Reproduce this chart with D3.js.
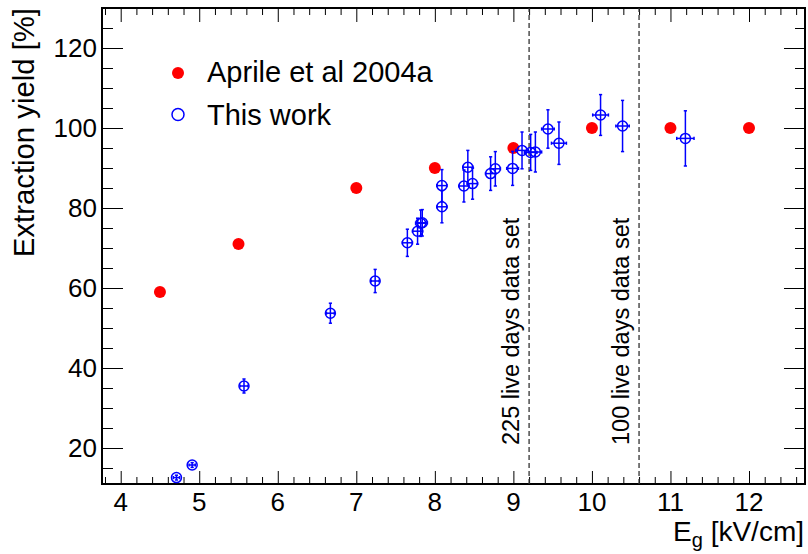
<!DOCTYPE html>
<html>
<head>
<meta charset="utf-8">
<script src="https://cdn.jsdelivr.net/npm/d3@7"></script>
<style>
  html, body { margin: 0; padding: 0; background: #fff; }
  svg { display: block; }
  text { font-family: "Liberation Sans", Arial, Helvetica, sans-serif; fill: #000; }
</style>
</head>
<body>
<svg id="chart" width="808" height="554"></svg>
<script>
// ---- data ----
const aprileX = [4.5, 5.5, 7, 8, 9, 10, 11, 12];
const aprileY = [59, 71, 85, 90, 95, 100, 100, 100];

const workX    = [4.71, 4.91, 5.57, 6.67, 7.24, 7.65, 7.78, 7.82, 7.84, 8.09, 8.09, 8.37, 8.42, 8.48, 8.71, 8.77, 8.99, 9.11, 9.22, 9.28, 9.44, 9.58, 10.11, 10.39, 11.19];
const workY    = [12.6, 15.75, 35.5, 53.7, 61.75, 71.3, 74.2, 76.2, 76.3, 80.3, 85.6, 85.5, 90.2, 86.1, 88.6, 89.8, 89.9, 94.4, 93.9, 94.0, 99.75, 96.2, 103.25, 100.5, 97.4];
const workYerr = [0.6, 0.6, 1.75, 2.5, 2.9, 3.4, 3.25, 3.3, 3.3, 4.0, 4.0, 4.0, 4.2, 3.9, 4.2, 4.3, 4.25, 4.6, 4.5, 5.0, 4.8, 5.3, 5.1, 6.4, 6.9];
const workXerr = [0.04, 0.04, 0.05, 0.05, 0.05, 0.065, 0.065, 0.065, 0.065, 0.065, 0.065, 0.065, 0.065, 0.065, 0.065, 0.065, 0.075, 0.08, 0.08, 0.08, 0.08, 0.095, 0.1, 0.085, 0.11];

const xMajorTicks = [4, 5, 6, 7, 8, 9, 10, 11, 12];
const yMajorTicks = [20, 40, 60, 80, 100, 120];
const xDomain = [3.762, 12.713];
const yDomain = [11, 130];

const dataSetLines = [9.2, 10.6];
const dataSetLabels = ["225 live days data set", "100 live days data set"];

const legendLabels = ["Aprile et al 2004a", "This work"];
const xTitle = ["E", "g", " [kV/cm]"];
const yTitle = "Extraction yield [%]";

// ---- layout ----
const L = 102, R = 805, T = 8, B = 484;
const RED = "#ff0000", BLUE = "#0000ff";

const svg = d3.select("#chart");
const x = d3.scaleLinear().domain(xDomain).range([L, R]);
const y = d3.scaleLinear().domain(yDomain).range([B, T]);

const xMinor = d3.range(38, 128, 2).map(v => v / 10).filter(v => !xMajorTicks.includes(v));
const yMinor = d3.range(15, 130, 5).filter(v => !yMajorTicks.includes(v));

function tickAxis(gen, scale, vals, size, transform) {
  const g = svg.append("g").attr("transform", transform)
    .call(gen(scale).tickValues(vals).tickSize(size).tickFormat(""));
  g.select(".domain").remove();
  g.selectAll(".tick line").attr("stroke", "#000").attr("stroke-width", 1);
  return g;
}
tickAxis(d3.axisTop, x, xMajorTicks, 13, `translate(0,${B})`);
tickAxis(d3.axisTop, x, xMinor, 7, `translate(0,${B})`);
tickAxis(d3.axisBottom, x, xMajorTicks, 14, `translate(0,${T})`);
tickAxis(d3.axisBottom, x, xMinor, 7, `translate(0,${T})`);
tickAxis(d3.axisRight, y, yMajorTicks, 21, `translate(${L},0)`);
tickAxis(d3.axisRight, y, yMinor, 11, `translate(${L},0)`);
tickAxis(d3.axisLeft, y, yMajorTicks, 21, `translate(${R},0)`);
tickAxis(d3.axisLeft, y, yMinor, 10, `translate(${R},0)`);

svg.append("g").selectAll("text").data(xMajorTicks).join("text")
  .attr("x", d => x(d)).attr("y", 511)
  .attr("text-anchor", "middle").attr("font-size", 26)
  .text(d => d);
svg.append("g").selectAll("text").data(yMajorTicks).join("text")
  .attr("x", 97).attr("y", d => y(d) + 9.3)
  .attr("text-anchor", "end").attr("font-size", 26)
  .text(d => d);

svg.append("rect").attr("x", L).attr("y", T).attr("width", R - L).attr("height", B - T)
  .attr("fill", "none").attr("stroke", "#000").attr("stroke-width", 2);

svg.append("g").selectAll("line").data(dataSetLines).join("line")
  .attr("x1", d => x(d)).attr("x2", d => x(d))
  .attr("y1", y(yDomain[0])).attr("y2", y(yDomain[1]))
  .attr("stroke", "#333").attr("stroke-width", 1.3)
  .attr("stroke-dasharray", "5,3");
svg.append("g").selectAll("text").data(dataSetLines).join("text")
  .attr("transform", d => `translate(${x(d) - 10},445) rotate(-90)`)
  .attr("font-size", 23.5)
  .text((d, i) => dataSetLabels[i]);

svg.append("g").selectAll("circle").data(aprileX).join("circle")
  .attr("cx", d => x(d)).attr("cy", (d, i) => y(aprileY[i]))
  .attr("r", 6).attr("fill", RED);

const work = workX.map((v, i) => ({ x: v, y: workY[i], ex: workXerr[i], ey: workYerr[i] }));
const eg = svg.append("g").attr("stroke", BLUE).attr("stroke-width", 1.5).attr("fill", "none");
work.forEach(p => {
  const cx = x(p.x), cy = y(p.y);
  const x0 = x(p.x - p.ex), x1 = x(p.x + p.ex);
  const y0 = y(p.y - p.ey), y1 = y(p.y + p.ey);
  eg.append("line").attr("x1", x0).attr("x2", x1).attr("y1", cy).attr("y2", cy);
  eg.append("line").attr("x1", cx).attr("x2", cx).attr("y1", y0).attr("y2", y1);
  eg.append("line").attr("x1", x0).attr("x2", x0).attr("y1", cy - 1.6).attr("y2", cy + 1.6);
  eg.append("line").attr("x1", x1).attr("x2", x1).attr("y1", cy - 1.6).attr("y2", cy + 1.6);
  eg.append("line").attr("x1", cx - 1.6).attr("x2", cx + 1.6).attr("y1", y0).attr("y2", y0);
  eg.append("line").attr("x1", cx - 1.6).attr("x2", cx + 1.6).attr("y1", y1).attr("y2", y1);
  eg.append("circle").attr("cx", cx).attr("cy", cy).attr("r", 5);
});

svg.append("circle").attr("cx", 178).attr("cy", 73).attr("r", 6).attr("fill", RED);
svg.append("circle").attr("cx", 178).attr("cy", 114.5).attr("r", 6)
  .attr("fill", "none").attr("stroke", BLUE).attr("stroke-width", 1.5);
svg.append("g").selectAll("text").data(legendLabels).join("text")
  .attr("x", 207).attr("y", (d, i) => i === 0 ? 81.5 : 124.5)
  .attr("font-size", 29).text(d => d);

const xt = svg.append("text").attr("x", 804).attr("y", 541)
  .attr("text-anchor", "end").attr("font-size", 28);
xt.append("tspan").text(xTitle[0]);
xt.append("tspan").attr("font-size", 20).attr("dy", 6).text(xTitle[1]);
xt.append("tspan").attr("dy", -6).text(xTitle[2]);

svg.append("text")
  .attr("transform", `translate(34,8) rotate(-90)`)
  .attr("text-anchor", "end").attr("font-size", 29.3)
  .text(yTitle);
</script>
</body>
</html>
